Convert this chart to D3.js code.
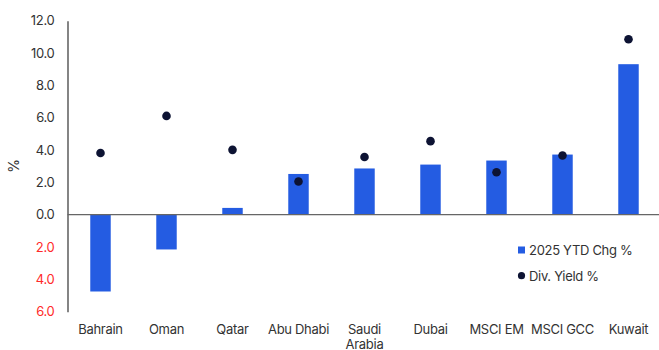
<!DOCTYPE html>
<html><head><meta charset="utf-8">
<script src="https://cdn.jsdelivr.net/npm/d3@7"></script>
<style>
body{margin:0;background:#fff;}
svg{display:block;font-family:Inter,"Noto Sans",sans-serif;}
svg text{letter-spacing:-0.3px;}
</style></head>
<body><svg id="c" width="659" height="350"></svg>
<script>
const categories = ["Bahrain","Oman","Qatar","Abu Dhabi","Saudi Arabia","Dubai","MSCI EM","MSCI GCC","Kuwait"];
const ytdChg = [-4.75,-2.15,0.42,2.52,2.86,3.1,3.35,3.72,9.31];
const divYield = [3.82,6.11,4.01,2.05,3.57,4.55,2.63,3.66,10.85];
const yTicks = [-6,-4,-2,0,2,4,6,8,10,12];
const seriesNames = ["2025 YTD Chg %","Div. Yield %"];

const svg = d3.select("#c");
const x = d3.scaleBand().domain(categories).range([67.5,661.5]).paddingInner(0.69).paddingOuter(0.345);
const y = d3.scaleLinear().domain([-6,12]).range([311.7,20.7]);

// y axis
const yAxis = svg.append("g").attr("transform","translate(67.5,0)")
  .call(d3.axisLeft(y).tickValues(yTicks).tickSize(0).tickPadding(13)
    .tickFormat(d=>Math.abs(d).toFixed(1)));
yAxis.select(".domain").attr("stroke","#333").attr("stroke-width",1.2);
yAxis.selectAll("text").attr("font-size",13).attr("font-family","Inter,sans-serif")
  .attr("fill",d=>d<0?"#ff2a2a":"#333");

// bars
svg.append("g").selectAll("rect").data(categories).join("rect")
  .attr("x",d=>x(d)).attr("width",x.bandwidth())
  .attr("y",(d,i)=>y(Math.max(0,ytdChg[i])))
  .attr("height",(d,i)=>Math.abs(y(ytdChg[i])-y(0)))
  .attr("fill","#245ce2");

// zero line
svg.append("line").attr("x1",67.5).attr("x2",659).attr("y1",y(0)).attr("y2",y(0))
  .attr("stroke","#666").attr("stroke-width",1.3);

// dots
svg.append("g").selectAll("circle").data(categories).join("circle")
  .attr("cx",d=>x(d)+x.bandwidth()/2).attr("cy",(d,i)=>y(divYield[i]))
  .attr("r",4.3).attr("fill","#0d1333");

// x labels
const xl = svg.append("g").selectAll("text").data(categories).join("text")
  .attr("x",d=>x(d)+x.bandwidth()/2).attr("y",334)
  .attr("text-anchor","middle").attr("font-size",13).attr("fill","#333");
xl.each(function(d){
  const t=d3.select(this);
  if(d==="Saudi Arabia"){
    t.append("tspan").attr("x",x(d)+x.bandwidth()/2).attr("dy",0).text("Saudi");
    t.append("tspan").attr("x",x(d)+x.bandwidth()/2).attr("dy",14.5).text("Arabia");
  } else t.text(d);
});

// y title
svg.append("text").attr("transform","translate(19,166) rotate(-90)")
  .attr("text-anchor","middle").attr("font-size",14).attr("fill","#333").text("%");

// legend
const lg = svg.append("g");
lg.append("rect").attr("x",518).attr("y",246.5).attr("width",7).attr("height",7).attr("fill","#245ce2");
lg.append("text").attr("x",529).attr("y",254.5).attr("font-size",13).attr("fill","#333").text(seriesNames[0]);
lg.append("circle").attr("cx",521.5).attr("cy",275.7).attr("r",3.6).attr("fill","#0d1333");
lg.append("text").attr("x",529).attr("y",280.5).attr("font-size",13).attr("fill","#333").text(seriesNames[1]);
</script></body></html>
